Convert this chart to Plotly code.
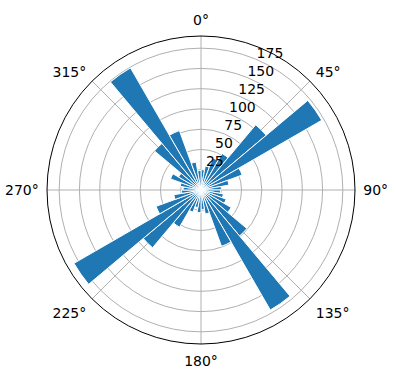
import plotly.graph_objects as go

# bin centres (degrees, clockwise from north) and counts
bin_centers = [5, 15, 25, 35, 45, 55, 65, 75, 85, 95, 105, 115,
               125, 135, 145, 155, 165, 175, 185, 195, 205, 215, 225, 235,
               245, 255, 265, 275, 285, 295, 305, 315, 325, 335, 345, 355]
counts = [25, 30, 42, 52, 105, 172, 54, 35, 25, 24, 28, 33,
          43, 74, 171, 74, 30, 24, 28, 22, 29, 53, 93, 181,
          59, 34, 24, 22, 26, 40, 32, 75, 174, 78, 35, 24]
bin_width = 10
r_ticks = [25, 50, 75, 100, 125, 150, 175]
r_labels = ["25", "50", "75", "100", "125", "150", "175"]
theta_ticks = [0, 45, 90, 135, 180, 225, 270, 315]
theta_labels = ["0°", "45°", "90°", "135°", "180°", "225°", "270°", "315°"]

r_max = 190
# radial label placement (matplotlib style: beside the 22.5° spoke)
label_theta = 27
label_pad = 12.5

fig = go.Figure()
fig.add_trace(go.Barpolar(
    r=counts,
    theta=bin_centers,
    width=[bin_width] * len(counts),
    marker=dict(color="#1f77b4", line=dict(color="white", width=1)),
    opacity=1,
    hoverinfo="skip",
))
fig.add_trace(go.Scatterpolar(
    r=[t + label_pad for t in r_ticks],
    theta=[label_theta] * len(r_ticks),
    text=r_labels,
    mode="text",
    textposition="middle center",
    textfont=dict(family="DejaVu Sans", size=14, color="black"),
    hoverinfo="skip",
    cliponaxis=False,
))

fig.update_layout(
    width=396, height=380,
    margin=dict(l=0, r=0, t=0, b=0),
    paper_bgcolor="white",
    showlegend=False,
    font=dict(family="DejaVu Sans", size=14, color="black"),
    polar=dict(
        domain=dict(x=[47 / 396, 355 / 396], y=[1 - 344 / 380, 1 - 36 / 380]),
        bgcolor="white",
        bargap=0,
        angularaxis=dict(
            rotation=90, direction="clockwise",
            tickmode="array", tickvals=theta_ticks, ticktext=theta_labels,
            showline=True, linecolor="black", linewidth=1,
            showgrid=True, gridcolor="#b0b0b0", gridwidth=0.8,
            ticks="outside", ticklen=5, tickcolor="rgba(0,0,0,0)",
            tickfont=dict(size=14),
        ),
        radialaxis=dict(
            range=[0, r_max], angle=67.5,
            tickmode="array", tickvals=r_ticks,
            showline=False, ticks="", showticklabels=False,
            showgrid=True, gridcolor="#b0b0b0", gridwidth=0.8,
        ),
    ),
)

fig.write_html("out.html")
